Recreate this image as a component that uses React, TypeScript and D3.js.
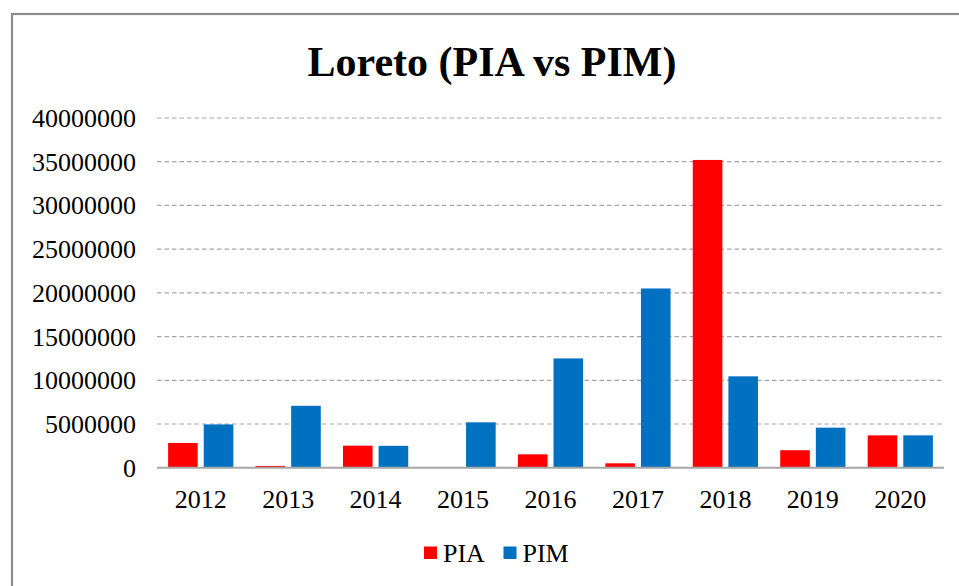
import React from "react";
import * as d3 from "d3";

const years = ["2012", "2013", "2014", "2015", "2016", "2017", "2018", "2019", "2020"];
const series = ["PIA", "PIM"];
const piaValues = [2830000, 200000, 2520000, 0, 1530000, 500000, 35200000, 2000000, 3700000];
const pimValues = [4950000, 7080000, 2500000, 5190000, 12500000, 20500000, 10450000, 4580000, 3700000];
const yTicks = [0, 5000000, 10000000, 15000000, 20000000, 25000000, 30000000, 35000000, 40000000];
const colors = ["#FF0000", "#0070C0"];
const title = "Loreto (PIA vs PIM)";

const W = 959;
const H = 586;
const plotLeft = 157;
const plotRight = 944;
const plotTop = 118;
const plotBottom = 467.7;
const font = "'Liberation Serif', 'Times New Roman', serif";

export default function App() {
  const x0 = d3.scaleBand<string>().domain(years).range([plotLeft, plotRight]).paddingInner(0).paddingOuter(0);
  const x1 = d3
    .scaleBand<string>()
    .domain(series)
    .range([0, x0.bandwidth()])
    .paddingInner(0.169)
    .paddingOuter(0.312);
  const y = d3.scaleLinear().domain([0, 40000000]).range([plotBottom, plotTop]);
  const data = [piaValues, pimValues];

  return (
    <div style={{ position: "absolute", left: 0, top: 0 }}>
      <svg width={W} height={H} style={{ display: "block", background: "#fff" }}>
        <rect x={12} y={14} width={W + 20} height={H + 20} fill="#fff" stroke="#8c8c8c" strokeWidth={2.2} />
        <text
          x={492}
          y={76}
          textAnchor="middle"
          fontFamily={font}
          fontWeight="bold"
          fontSize={42}
          fill="#000"
        >
          {title}
        </text>
        {yTicks.map((t) =>
          t === 0 ? null : (
            <line
              key={"g" + t}
              x1={plotLeft}
              x2={plotRight}
              y1={y(t)}
              y2={y(t)}
              stroke="#a6a6a6"
              strokeWidth={1.2}
              strokeDasharray="4.5,3"
            />
          )
        )}
        {yTicks.map((t) => (
          <text
            key={"yl" + t}
            x={136}
            y={y(t) + 9}
            textAnchor="end"
            fontFamily={font}
            fontSize={26}
            fill="#000"
          >
            {String(t)}
          </text>
        ))}
        {data.map((vals, si) =>
          vals.map((v, i) => (
            <rect
              key={series[si] + years[i]}
              x={(x0(years[i]) as number) + (x1(series[si]) as number)}
              y={y(v)}
              width={x1.bandwidth()}
              height={plotBottom - y(v)}
              fill={colors[si]}
            />
          ))
        )}
        <line x1={plotLeft} x2={plotRight} y1={plotBottom} y2={plotBottom} stroke="#a6a6a6" strokeWidth={2} />
        {years.map((yr) => (
          <text
            key={"xl" + yr}
            x={(x0(yr) as number) + x0.bandwidth() / 2}
            y={508}
            textAnchor="middle"
            fontFamily={font}
            fontSize={26}
            fill="#000"
          >
            {yr}
          </text>
        ))}
        {series.map((s, i) => {
          const lx = [424, 503.5][i];
          return (
            <g key={"leg" + s}>
              <rect x={lx} y={546.5} width={13} height={12.5} fill={colors[i]} />
              <text x={lx + 19} y={562} fontFamily={font} fontSize={26} fill="#000">
                {s}
              </text>
            </g>
          );
        })}
      </svg>
    </div>
  );
}
